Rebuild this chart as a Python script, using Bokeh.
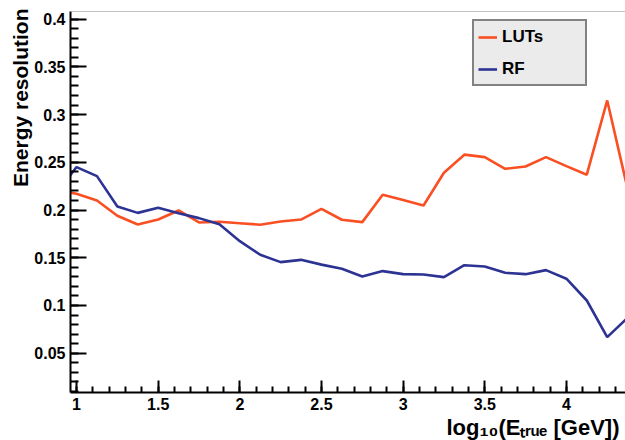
from bokeh.plotting import figure
from bokeh.models import (Range1d, SingleIntervalTicker, CustomJSTickFormatter, Title,
                          Legend, LegendItem, Span)
from bokeh.embed import file_html
from bokeh.resources import INLINE

# ---- data (bin centres of log10(E_true [GeV]) and energy resolution) ----
log_e = [0.875, 1.0, 1.125, 1.25, 1.375, 1.5, 1.625, 1.75, 1.875, 2.0,
         2.125, 2.25, 2.375, 2.5, 2.625, 2.75, 2.875, 3.0, 3.125, 3.25,
         3.375, 3.5, 3.625, 3.75, 3.875, 4.0, 4.125, 4.25, 4.375]
luts = [0.221, 0.217, 0.210, 0.194, 0.1848, 0.190, 0.1995, 0.187, 0.1877, 0.1862,
        0.1846, 0.188, 0.190, 0.2013, 0.1898, 0.1873, 0.216, 0.2105, 0.2048, 0.239,
        0.258, 0.2554, 0.2432, 0.2456, 0.2554, 0.246, 0.237, 0.3148, 0.222]
rf = [0.217, 0.245, 0.2355, 0.2037, 0.197, 0.2024, 0.1967, 0.1915, 0.1850, 0.1674,
      0.1531, 0.1454, 0.1478, 0.1428, 0.1384, 0.1304, 0.136, 0.1328, 0.1325, 0.1297,
      0.1422, 0.1409, 0.1342, 0.1328, 0.137, 0.128, 0.1052, 0.0668, 0.0872]
series_names = ["LUTs", "RF"]
y_title = "Energy resolution"
x_title = "log\u2081\u2080(E\u209c\u1d63\u1d64\u2091 [GeV])"

X_MIN, X_MAX = 0.963, 4.362
Y_MIN, Y_MAX = 0.0088, 0.408

RED = "#fa4f22"
BLUE = "#2c3393"
FONT = "Liberation Sans"

p = figure(width=625, height=440, output_backend="svg", toolbar_location=None,
           x_range=Range1d(X_MIN, X_MAX), y_range=Range1d(Y_MIN, Y_MAX),
           min_border_left=70, min_border_right=0, min_border_top=11,
           min_border_bottom=48)
p.background_fill_color = "white"
p.border_fill_color = "white"
p.outline_line_color = None
p.xgrid.visible = False
p.ygrid.visible = False

r_luts = p.line(log_e, luts, line_color=RED, line_width=2.6)
r_rf = p.line(log_e, rf, line_color=BLUE, line_width=2.6)

fmt = CustomJSTickFormatter(code="return String(Math.round(tick*1000)/1000);")

xa = p.xaxis[0]
xa.ticker = SingleIntervalTicker(interval=0.5, num_minor_ticks=5)
xa.formatter = fmt
ya = p.yaxis[0]
ya.ticker = SingleIntervalTicker(interval=0.05, num_minor_ticks=5)
ya.formatter = fmt
for ax in (xa, ya):
    ax.axis_line_color = "black"
    ax.axis_line_width = 2
    ax.major_tick_line_color = "black"
    ax.minor_tick_line_color = "black"
    ax.major_tick_line_width = 2
    ax.minor_tick_line_width = 2
    ax.major_tick_out = 0
    ax.minor_tick_out = 0
    ax.major_label_text_font = FONT
    ax.major_label_text_font_style = "bold"
    ax.major_label_text_font_size = "16px"
    ax.major_label_text_color = "black"
xa.major_tick_in = 12
xa.minor_tick_in = 6
xa.major_label_standoff = 5
ya.major_tick_in = 16
ya.minor_tick_in = 8
ya.major_label_standoff = 5

# top frame line
p.add_layout(Span(location=Y_MAX, dimension="width", line_color="#888888", line_width=1))

# axis titles (ROOT style: aligned to the end of the axis)
p.add_layout(Title(text=y_title, align="right", standoff=0, offset=-3,
                   text_font=FONT, text_font_style="bold", text_font_size="21px",
                   text_color="black"), "left")
p.add_layout(Title(text=x_title, align="right", standoff=0, offset=6,
                   text_font=FONT, text_font_style="bold", text_font_size="22px",
                   text_color="black"), "below")

legend = Legend(items=[LegendItem(label=series_names[0], renderers=[r_luts]),
                       LegendItem(label=series_names[1], renderers=[r_rf])],
                location=(402, 306), margin=0, padding=4, spacing=9,
                glyph_width=19, glyph_height=20, label_height=23, label_width=79,
                label_standoff=5,
                label_text_font=FONT, label_text_font_style="bold",
                label_text_font_size="17px", label_text_color="black",
                background_fill_color="#ebebeb", background_fill_alpha=1.0,
                border_line_color="#1a1a1a", border_line_width=2)
p.add_layout(legend)

open("out.html", "w").write(file_html(p, INLINE))
